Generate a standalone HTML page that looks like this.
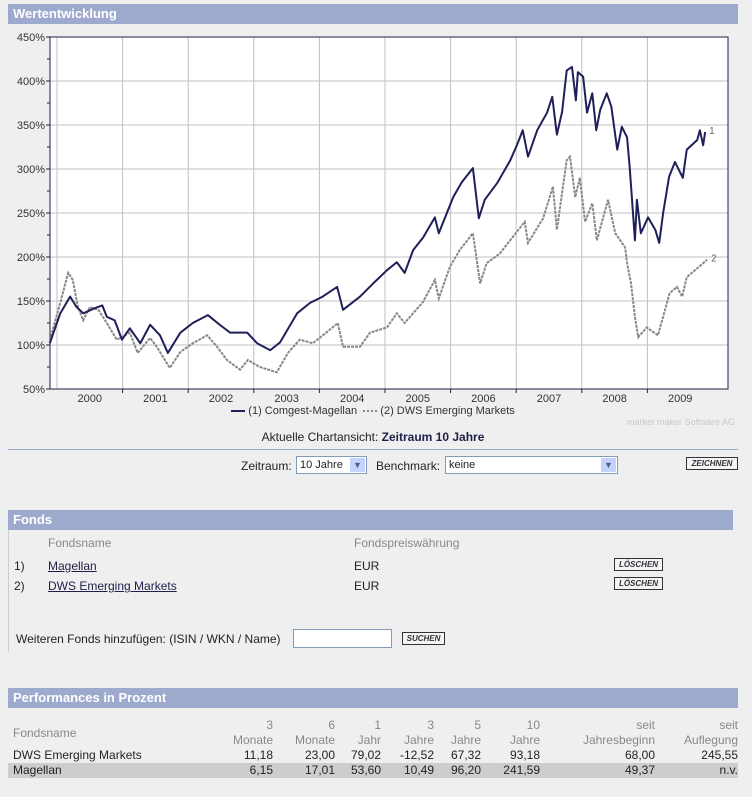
<!DOCTYPE html>
<html><head><meta charset="utf-8"><style>
body{margin:0;width:752px;height:797px;background:#efefef;font-family:"Liberation Sans",sans-serif;font-size:12px;color:#222;position:relative;overflow:hidden}
.abs{position:absolute}
.bar{position:absolute;left:8px;background:#9eaacd;color:#fff;font-weight:bold;font-size:13px;height:20px;line-height:20px;padding-left:5px;box-sizing:border-box}
.btn{position:absolute;border:1px solid #333;background:#f4f4f8;color:#333;font-size:8px;font-weight:bold;font-style:italic;text-align:center;line-height:11px;height:11px}
.sel{position:absolute;background:#fff;border:1px solid #7f9db9;height:18px;box-sizing:border-box;font-size:11px;line-height:16px;padding-left:3px}
.sel .arr{position:absolute;right:1px;top:1px;width:15px;height:14px;background:#c3d3fd;color:#4d6185;font-size:9px;text-align:center;line-height:14px}
.gray{color:#888}
td{padding:0}
</style></head><body>
<div class="bar" style="top:4px;width:730px">Wertentwicklung</div>
<svg class="abs" style="left:0;top:0" width="752" height="430">
<g id="grid"></g><g id="axes"></g><g id="series"></g>
</svg>
<div class="abs" style="left:0;width:746px;top:405px;text-align:center;font-size:11px;color:#333">
<span style="display:inline-block;width:14px;height:2px;background:#1f1f5a;vertical-align:middle"></span> (1) Comgest-Magellan &nbsp;<span style="display:inline-block;width:14px;border-top:2px dotted #888;vertical-align:middle"></span> (2) DWS Emerging Markets</div>
<div class="abs" style="right:17px;top:417px;font-size:9px;color:#c8c8c8">market maker Software AG</div>
<div class="abs" style="left:0;width:746px;top:430px;text-align:center;color:#222">Aktuelle Chartansicht: <b style="color:#1f1f4a">Zeitraum 10 Jahre</b></div>
<div class="abs" style="left:8px;top:449px;width:730px;height:1px;background:#9eaacd"></div>
<div class="abs" style="left:241px;top:459px">Zeitraum:</div>
<div class="sel" style="left:296px;top:456px;width:71px">10 Jahre<span class="arr">▼</span></div>
<div class="abs" style="left:376px;top:459px">Benchmark:</div>
<div class="sel" style="left:445px;top:456px;width:173px">keine<span class="arr">▼</span></div>
<div class="btn" style="left:686px;top:457px;width:50px">ZEICHNEN</div>

<div class="bar" style="top:510px;width:725px">Fonds</div>
<div class="abs" style="left:8px;top:530px;width:1px;height:122px;background:#c8cbd8"></div>
<div class="abs gray" style="left:48px;top:536px">Fondsname</div>
<div class="abs gray" style="left:354px;top:536px">Fondspreiswährung</div>
<div class="abs" style="left:14px;top:559px">1)</div>
<div class="abs" style="left:48px;top:559px;text-decoration:underline;color:#1f1f4a">Magellan</div>
<div class="abs" style="left:354px;top:559px">EUR</div>
<div class="btn" style="left:614px;top:558px;width:47px">LÖSCHEN</div>
<div class="abs" style="left:14px;top:579px">2)</div>
<div class="abs" style="left:48px;top:579px;text-decoration:underline;color:#1f1f4a">DWS Emerging Markets</div>
<div class="abs" style="left:354px;top:579px">EUR</div>
<div class="btn" style="left:614px;top:577px;width:47px">LÖSCHEN</div>
<div class="abs" style="left:16px;top:632px">Weiteren Fonds hinzufügen: (ISIN / WKN / Name)</div>
<div class="abs" style="left:293px;top:629px;width:99px;height:19px;background:#fff;border:1px solid #7f9db9;box-sizing:border-box"></div>
<div class="btn" style="left:402px;top:632px;width:41px">SUCHEN</div>

<div class="bar" style="top:688px;width:730px">Performances in Prozent</div>
<table class="abs" style="left:8px;top:718px;width:730px;border-collapse:collapse;font-size:12px;line-height:15px">
<colgroup><col style="width:205px"><col style="width:60px"><col style="width:62px"><col style="width:46px"><col style="width:53px"><col style="width:47px"><col style="width:59px"><col style="width:115px"><col style="width:83px"></colgroup>
<tr class="gray" style="text-align:right"><td style="text-align:left;padding-left:5px;vertical-align:middle">Fondsname</td><td>3<br>Monate</td><td>6<br>Monate</td><td>1<br>Jahr</td><td>3<br>Jahre</td><td>5<br>Jahre</td><td>10<br>Jahre</td><td>seit<br>Jahresbeginn</td><td>seit<br>Auflegung</td></tr>
<tr style="text-align:right"><td style="text-align:left;padding-left:5px">DWS Emerging Markets</td><td>11,18</td><td>23,00</td><td>79,02</td><td>-12,52</td><td>67,32</td><td>93,18</td><td>68,00</td><td>245,55</td></tr>
<tr style="text-align:right;background:#cdcdcd"><td style="text-align:left;padding-left:5px">Magellan</td><td>6,15</td><td>17,01</td><td>53,60</td><td>10,49</td><td>96,20</td><td>241,59</td><td>49,37</td><td>n.v.</td></tr>
</table>

<script>
const yTicks=[50,100,150,200,250,300,350,400,450];
const years=[2000,2001,2002,2003,2004,2005,2006,2007,2008,2009];
const magellanDates=[1999.89,2000.05,2000.20,2000.30,2000.40,2000.58,2000.69,2000.76,2000.88,2000.99,2001.11,2001.27,2001.42,2001.57,2001.69,2001.88,2002.07,2002.30,2002.48,2002.64,2002.90,2003.05,2003.25,2003.40,2003.66,2003.86,2004.05,2004.27,2004.36,2004.62,2004.82,2005.03,2005.18,2005.30,2005.43,2005.58,2005.76,2005.82,2006.04,2006.17,2006.34,2006.43,2006.52,2006.71,2006.91,2007.01,2007.10,2007.18,2007.32,2007.47,2007.55,2007.62,2007.70,2007.77,2007.85,2007.91,2007.94,2008.02,2008.08,2008.16,2008.22,2008.28,2008.38,2008.45,2008.54,2008.61,2008.69,2008.73,2008.81,2008.84,2008.90,2009.01,2009.12,2009.18,2009.24,2009.33,2009.42,2009.54,2009.60,2009.76,2009.80,2009.85,2009.88];
const magellanValues=[102,136,155,143,136,142,145,132,128,106,119,102,123,111,91,114,125,134,123,114,114,102,94,103,136,148,155,166,140,155,170,185,194,182,208,222,245,227,268,285,301,244,265,284,310,327,344,314,344,364,382,339,365,412,416,378,410,405,364,386,344,367,386,371,322,348,336,302,219,265,227,245,231,216,250,291,308,290,322,333,344,327,342];
const dwsDates=[1999.89,2000.05,2000.17,2000.24,2000.32,2000.40,2000.50,2000.63,2000.76,2000.91,2001.11,2001.23,2001.42,2001.52,2001.72,2001.88,2002.07,2002.29,2002.44,2002.59,2002.79,2002.91,2003.09,2003.35,2003.52,2003.70,2003.90,2004.12,2004.28,2004.36,2004.62,2004.77,2005.03,2005.18,2005.30,2005.58,2005.76,2005.82,2005.99,2006.14,2006.34,2006.45,2006.55,2006.75,2006.95,2007.13,2007.18,2007.41,2007.56,2007.62,2007.77,2007.82,2007.90,2007.97,2008.05,2008.16,2008.23,2008.40,2008.51,2008.66,2008.69,2008.75,2008.81,2008.86,2008.99,2009.16,2009.34,2009.45,2009.53,2009.60,2009.85,2009.91];
const dwsValues=[105,148,182,174,143,128,143,140,125,106,114,91,108,98,74,92,102,111,98,83,72,83,75,69,91,106,102,115,125,98,98,114,120,136,125,149,174,153,189,208,227,170,193,204,223,240,216,244,280,231,310,314,268,290,240,261,219,265,227,211,193,170,132,109,120,111,159,166,155,177,193,197];

const NS="http://www.w3.org/2000/svg";
const L=50,R=728,T=37,B=389;
const x=t=>57+(t-2000)*65.6;
const y=v=>B-(v-50)*(B-T)/400;
function mk(tag,attrs,parent){const e=document.createElementNS(NS,tag);for(const k in attrs)e.setAttribute(k,attrs[k]);document.getElementById(parent).appendChild(e);return e;}
let e=mk('rect',{x:L,y:T,width:R-L,height:B-T,fill:'#fff'},'grid');


yTicks.forEach(v=>{
 const g=mk('line',{x1:L,x2:R,y1:y(v),y2:y(v),stroke:'#c0c0c0','stroke-width':1},'grid');
 
 
 const t=mk('text',{x:45,y:y(v)+4,'text-anchor':'end','font-size':11,fill:'#333','font-family':'Liberation Sans, sans-serif'},'axes');
 t.textContent=v+'%';
 
 
 mk('line',{x1:L-4,x2:L,y1:y(v),y2:y(v),stroke:'#1f1f4a'},'axes');
 if(v<450) mk('line',{x1:L-3,x2:L,y1:y(v+25),y2:y(v+25),stroke:'#1f1f4a'},'axes');
});
years.forEach(yr=>{
 const g=mk('line',{x1:x(yr),x2:x(yr),y1:T,y2:B,stroke:'#c0c0c0'},'grid');
 
 
 if(yr>2000) mk('line',{x1:x(yr),x2:x(yr),y1:B,y2:B+4,stroke:'#1f1f4a'},'axes');
 const t=mk('text',{x:x(yr+0.5),y:B+13,'text-anchor':'middle','font-size':11,fill:'#333','font-family':'Liberation Sans, sans-serif'},'axes');
 t.textContent=yr;
 
 
});
mk('rect',{x:L,y:T,width:R-L,height:B-T,fill:'none',stroke:'#1f1f4a','stroke-width':1},'axes');
function line(dates,vals,attrs,name,lbl){
 const p=mk('polyline',Object.assign({points:dates.map((d,i)=>x(d)+','+y(vals[i])).join(' '),fill:'none'},attrs),'series');
 
 
 const n=dates.length-1;
 const t=mk('text',{x:x(dates[n])+4,y:y(vals[n])+2,'font-size':10,fill:'#666','font-family':'Liberation Sans, sans-serif'},'series');
 t.textContent=lbl;
 
 
}
line(dwsDates,dwsValues,{stroke:'#888','stroke-width':2,'stroke-dasharray':'3,1'},'dws-line','2');
line(magellanDates,magellanValues,{stroke:'#1f1f5a','stroke-width':2,'stroke-linejoin':'round'},'magellan-line','1');
</script>
</body></html>
